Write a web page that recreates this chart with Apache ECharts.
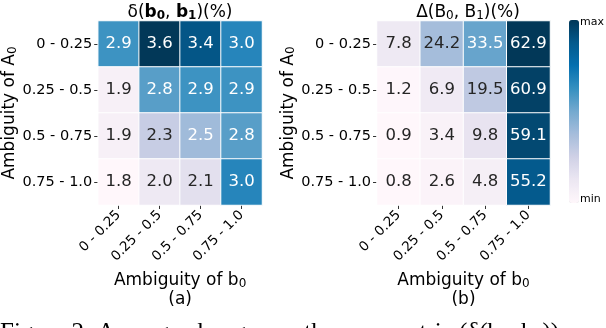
<!DOCTYPE html>
<html>
<head>
<meta charset="utf-8">
<script src="https://cdn.jsdelivr.net/npm/echarts@6/dist/echarts.min.js"></script>
<style>
  html, body { margin: 0; padding: 0; background: #fff; }
  #chart { width: 606px; height: 328px; }
</style>
</head>
<body>
<div id="chart"></div>
<script>
// ambiguity bins, same for both axes
var bins = ['0 - 0.25', '0.25 - 0.5', '0.5 - 0.75', '0.75 - 1.0'];

// rows = ambiguity of A0 (top to bottom), cols = ambiguity of b0
var deltaSmall = [
  [2.9, 3.6, 3.4, 3.0],
  [1.9, 2.8, 2.9, 2.9],
  [1.9, 2.3, 2.5, 2.8],
  [1.8, 2.0, 2.1, 3.0]
];
var deltaBig = [
  [7.8, 24.2, 33.5, 62.9],
  [1.2, 6.9, 19.5, 60.9],
  [0.9, 3.4, 9.8, 59.1],
  [0.8, 2.6, 4.8, 55.2]
];

var PuBu = ['#fff7fb', '#ece7f2', '#d0d1e6', '#a6bddb', '#74a9cf', '#3690c0', '#0570b0', '#045a8d', '#023858'];
var font = 'DejaVu Sans';

function toCells(rows) {
  var all = [].concat.apply([], rows);
  var lo = Math.min.apply(null, all), hi = Math.max.apply(null, all);
  var out = [];
  rows.forEach(function (r, y) {
    r.forEach(function (v, x) {
      // light cells get dark text, like seaborn annot
      var t = (v - lo) / (hi - lo);
      out.push({value: [x, y, v], label: {color: t > 0.383 ? '#ffffff' : '#262626'}});
    });
  });
  return {data: out, min: lo, max: hi};
}

var a = toCells(deltaSmall);
var b = toCells(deltaBig);

var rich = {
  n: {fontFamily: font, fontSize: 17, fontWeight: 'normal', color: '#000'},
  s: {fontFamily: font, fontSize: 12, fontWeight: 'normal', color: '#000', padding: [6, 0, 0, 0]},
  bb: {fontFamily: font, fontSize: 17, fontWeight: 'bold', color: '#000'},
  bs: {fontFamily: font, fontSize: 12, fontWeight: 'bold', color: '#000', padding: [6, 0, 0, 0]}
};

function xAxis(idx, tag) {
  return {
    type: 'category', gridIndex: idx, data: bins, position: 'bottom',
    axisLine: {show: false},
    axisTick: {show: true, alignWithLabel: true, length: 4, lineStyle: {color: '#333'}},
    axisLabel: {rotate: 45, fontFamily: font, fontSize: 13.5, color: '#000', margin: 8},
    splitLine: {show: false},
    name: '{n|Ambiguity of b}{s|0}\n{n|' + tag + '}',
    nameLocation: 'middle', nameGap: 51,
    nameTextStyle: {rich: rich, lineHeight: 19}
  };
}
function yAxis(idx) {
  return {
    type: 'category', gridIndex: idx, data: bins, inverse: true,
    axisLine: {show: false},
    axisTick: {show: true, alignWithLabel: true, length: 4, lineStyle: {color: '#333'}},
    axisLabel: {fontFamily: font, fontSize: 14.5, color: '#000', margin: 6},
    splitLine: {show: false},
    name: '{n|Ambiguity of A}{s|0}',
    nameLocation: 'middle', nameGap: 71, nameRotate: 90,
    nameTextStyle: {rich: rich}
  };
}

var cellLabel = {show: true, fontFamily: font, fontSize: 16.5, formatter: function (p) { return p.value[2].toFixed(1); }};

var option = {
  animation: false,
  backgroundColor: '#fff',
  title: [
    {
      text: '{n|δ(}{bb|b}{bs|0}{n|, }{bb|b}{bs|1}{n|)(%)}',
      left: 175, top: -1, textAlign: 'center',
      textStyle: {rich: rich, fontWeight: 'normal'}
    },
    {
      text: '{n|Δ(B}{s|0}{n|, B}{s|1}{n|)(%)}',
      left: 463, top: -1, textAlign: 'center',
      textStyle: {rich: rich, fontWeight: 'normal'}
    }
  ],
  grid: [
    {left: 89, top: 21, width: 173, height: 184},
    {left: 377, top: 21, width: 173, height: 184}
  ],
  xAxis: [xAxis(0, '(a)'), xAxis(1, '(b)')],
  yAxis: [yAxis(0), yAxis(1)],
  visualMap: [
    {
      type: 'continuous', seriesIndex: 0, min: a.min, max: a.max, show: false,
      inRange: {color: PuBu}
    },
    {
      type: 'continuous', seriesIndex: 1, min: b.min, max: b.max, show: true,
      calculable: false, realtime: false,
      left: 554, top: 5, itemWidth: 10, itemHeight: 183,
      text: null, showLabel: false,
      inRange: {color: PuBu}
    }
  ],
  graphic: [
    {type: 'text', left: 580, top: 17, style: {text: 'max', fontFamily: font, fontSize: 11, fill: '#000'}},
    {type: 'text', left: 580, top: 194, style: {text: 'min', fontFamily: font, fontSize: 11, fill: '#000'}},
    {type: 'text', left: 0, top: 321, style: {text: 'Figure 2: Average changes on the new metric (δ(b₀, b₁))', fontFamily: 'Liberation Serif', fontSize: 25, fill: '#000'}}
  ],
  series: [
    {
      type: 'heatmap', xAxisIndex: 0, yAxisIndex: 0, data: a.data,
      itemStyle: {borderColor: '#fff', borderWidth: 1},
      label: cellLabel
    },
    {
      type: 'heatmap', xAxisIndex: 1, yAxisIndex: 1, data: b.data,
      itemStyle: {borderColor: '#fff', borderWidth: 1},
      label: cellLabel
    }
  ]
};

var chart = echarts.init(document.getElementById('chart'), null, {renderer: 'canvas'});
chart.setOption(option);
</script>
</body>
</html>
